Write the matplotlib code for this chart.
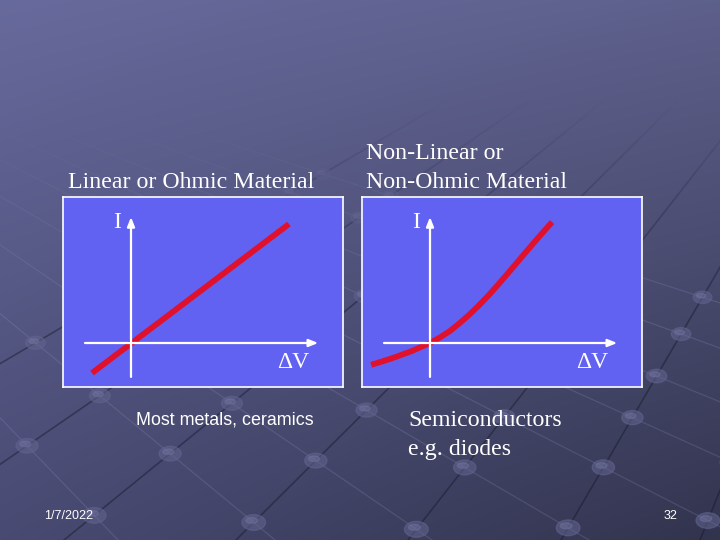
import numpy as np
import matplotlib
matplotlib.use("Agg")
import matplotlib.pyplot as plt
from matplotlib.patches import Ellipse

# I-V curves, arbitrary units, origin where the two axes cross
ohmic_v = [-1.0, 4.05]
ohmic_i = [-0.77, 3.05]

diode_v = [-1.51, -1.25, -1.0, -0.75, -0.5, -0.25, 0.0, 0.25, 0.5, 0.75, 1.0,
           1.25, 1.5, 1.75, 2.0, 2.5, 2.8, 3.13]
diode_i = [-0.56, -0.48, -0.40, -0.31, -0.22, -0.11, 0.0, 0.14, 0.30, 0.50, 0.72,
           0.96, 1.22, 1.50, 1.79, 2.38, 2.73, 3.10]

titles = ["Linear or Ohmic Material", "Non-Linear or\nNon-Ohmic Material"]
captions = ["Most metals, ceramics", "Semiconductors\ne.g. diodes"]
footer_date = "1/7/2022"
page_no = "32"

W, H = 720, 540
BOX = "#6262f2"
RED = "#e0112c"
SERIF = ["Liberation Serif", "DejaVu Serif"]
NARROW = ["Liberation Sans Narrow", "Liberation Sans", "DejaVu Sans"]

fig = plt.figure(figsize=(7.2, 5.4), dpi=100)

# ---- slide background: gradient + faint perspective grid ----
bg = fig.add_axes([0, 0, 1, 1])
bg.set_xlim(0, W)
bg.set_ylim(H, 0)
bg.axis("off")

yy, xx = np.mgrid[0:H, 0:W]
fx = (xx / (W - 1))[..., None]
fy = (yy / (H - 1))[..., None]
tl, tr = np.array([103, 106, 156]), np.array([94, 96, 140])
bl, br = np.array([72, 74, 114]), np.array([50, 52, 78])
grad = ((1 - fx) * (1 - fy) * tl + fx * (1 - fy) * tr
        + (1 - fx) * fy * bl + fx * fy * br) / 255.0
bg.imshow(grad, extent=(0, W, H, 0), aspect="auto", zorder=0)

va = np.array([1010.0, -230.0])   # dark lines vanish up-right
vb = np.array([-490.0, -90.0])    # light lines vanish up-left
dark_feet = [-300, -110, 64, 236, 408, 561, 700, 830]
light_feet = [-40, 118, 275, 432, 589, 746, 903, 1060, 1250, 1450]


def line_through(p, q):
    return p, q - p


for xb in dark_feet:
    p, d = line_through(va, np.array([xb, 540.0]))
    t = np.array([0, 1.1])
    bg.plot(p[0] + t * d[0], p[1] + t * d[1], color="#16172a", lw=1.2, alpha=0.45, zorder=1)
for xb in light_feet:
    p, d = line_through(vb, np.array([xb, 540.0]))
    t = np.array([0, 1.6])
    bg.plot(p[0] + t * d[0], p[1] + t * d[1], color="#9496c4", lw=0.9, alpha=0.22, zorder=1)

for xa in dark_feet:
    pa, da = line_through(va, np.array([xa, 540.0]))
    for xb in light_feet:
        pb, db = line_through(vb, np.array([xb, 540.0]))
        s = np.linalg.solve(np.column_stack([da, -db]), pb - pa)
        x, y = pa + s[0] * da
        if -20 < x < W + 20 and -20 < y < H + 20:
            sc = 0.5 + 0.5 * y / H
            bg.add_patch(Ellipse((x, y), 24 * sc, 16 * sc, color="#62648f", alpha=0.55, zorder=2))
            bg.add_patch(Ellipse((x - 2 * sc, y - 2 * sc), 12 * sc, 6 * sc, color="#7a7ca8",
                                 alpha=0.35, zorder=2))

# fade the grid out towards the top of the slide
fade = np.dstack([grad, np.clip((300 - yy) / 200.0, 0, 1)])
bg.imshow(fade, extent=(0, W, H, 0), aspect="auto", zorder=3)


# ---- the two I-V panels ----
def panel(left, v, i):
    ax = fig.add_axes([left / W, 1 - 387 / H, 280 / W, 190 / H])
    ax.set_facecolor(BOX)
    for s in ax.spines.values():
        s.set_color("white")
        s.set_linewidth(1.2)
    ax.set_xticks([])
    ax.set_yticks([])
    ax.set_xlim(-68 / 39, 212 / 39)
    ax.set_ylim(-44 / 39, 146 / 39)
    arrow = dict(arrowstyle="-|>,head_length=0.55,head_width=0.22", color="white", lw=1.6,
                 shrinkA=0, shrinkB=0)
    ax.annotate("", xy=(4.8, 0), xytext=(-1.18, 0), arrowprops=arrow)
    ax.annotate("", xy=(0, 3.23), xytext=(0, -0.87), arrowprops=arrow)
    ax.text(-0.36, 3.1, "I", color="white", fontsize=17, family=SERIF, ha="center", va="center")
    ax.text(4.15, -0.5, "\u0394V", color="white", fontsize=17, family=SERIF, ha="center", va="center")
    ax.plot(v, i, color=RED, lw=4.2, solid_capstyle="butt", solid_joinstyle="round")
    return ax


panel(63, ohmic_v, ohmic_i)
panel(362, diode_v, diode_i)

# ---- slide text ----
fig.text(68 / W, 1 - 183 / H, titles[0], color="white", fontsize=17.2, family=SERIF,
         ha="left", va="center")
fig.text(366 / W, 1 - 168 / H, titles[1], color="white", fontsize=17.2, family=SERIF,
         ha="left", va="center", linespacing=1.45)
fig.text(136 / W, 1 - 420 / H, captions[0], color="white", fontsize=12.9,
         family=["Liberation Sans", "DejaVu Sans"], ha="left", va="center")
fig.text(408 / W, 1 - 435 / H, captions[1], color="white", fontsize=17.2, family=SERIF,
         ha="left", va="center", linespacing=1.45)
fig.text(44 / W, 1 - 516 / H, footer_date, color="white", fontsize=9,
         family=NARROW, ha="left", va="center")
fig.text(677 / W, 1 - 516 / H, page_no, color="white", fontsize=9,
         family=NARROW, ha="right", va="center")

fig.savefig("out.png", dpi=100)
